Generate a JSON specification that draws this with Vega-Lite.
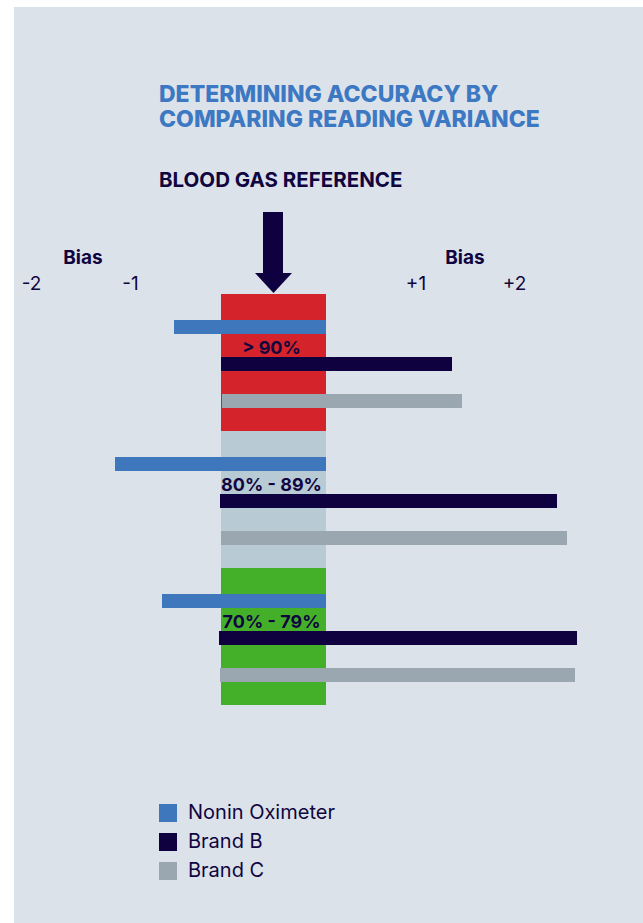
{
  "$schema": "https://vega.github.io/schema/vega-lite/v6.json",
  "width": 643,
  "height": 923,
  "autosize": {"type": "fit", "contains": "padding"},
  "padding": {"left": 14, "top": 7, "right": 0, "bottom": 0},
  "background": "#ffffff",
  "config": {"view": {"fill": "#dce2ea", "stroke": null}, "text": {"font": "Inter"}},
  "resolve": {"scale": {"y": "independent", "color": "independent"}},
  "layer": [
    {
      "data": {"values": [
        {"group": "> 90%", "lo": -0.525, "hi": 0.525},
        {"group": "80% - 89%", "lo": -0.525, "hi": 0.525},
        {"group": "70% - 79%", "lo": -0.525, "hi": 0.525}
      ]},
      "mark": {"type": "rect"},
      "encoding": {
        "x": {"field": "lo", "type": "quantitative", "scale": {"domain": [-2.595, 3.695], "nice": false, "zero": false}, "axis": null},
        "x2": {"field": "hi"},
        "y": {"field": "group", "type": "nominal", "sort": null, "axis": null,
              "scale": {"type": "band", "domain": ["> 90%", "80% - 89%", "70% - 79%"], "range": [287, 698], "paddingInner": 0, "paddingOuter": 0}},
        "color": {"field": "group", "type": "nominal", "legend": null,
                  "scale": {"domain": ["> 90%", "80% - 89%", "70% - 79%"], "range": ["#d4232a", "#b8cad4", "#44b02a"]}}
      }
    },
    {
      "data": {"values": [
        {"group": "> 90%", "brand": "Nonin Oximeter", "from": -0.995, "to": 0.525},
        {"group": "> 90%", "brand": "Brand B", "from": -0.525, "to": 1.785},
        {"group": "> 90%", "brand": "Brand C", "from": -0.515, "to": 1.885},
        {"group": "80% - 89%", "brand": "Nonin Oximeter", "from": -1.585, "to": 0.525},
        {"group": "80% - 89%", "brand": "Brand B", "from": -0.535, "to": 2.835},
        {"group": "80% - 89%", "brand": "Brand C", "from": -0.525, "to": 2.935},
        {"group": "70% - 79%", "brand": "Nonin Oximeter", "from": -1.115, "to": 0.525},
        {"group": "70% - 79%", "brand": "Brand B", "from": -0.545, "to": 3.035},
        {"group": "70% - 79%", "brand": "Brand C", "from": -0.535, "to": 3.015}
      ]},
      "mark": {"type": "bar"},
      "encoding": {
        "x": {"field": "from", "type": "quantitative", "axis": null},
        "x2": {"field": "to"},
        "y": {"field": "group", "type": "nominal", "sort": null, "axis": null,
              "scale": {"type": "band", "domain": ["> 90%", "80% - 89%", "70% - 79%"], "range": [287, 698], "paddingInner": 0, "paddingOuter": 0}},
        "yOffset": {"field": "brand", "type": "nominal", "sort": null,
              "scale": {"domain": ["Nonin Oximeter", "Brand B", "Brand C"], "paddingInner": 0.6216, "paddingOuter": 0.662, "align": 0.53}},
        "color": {"field": "brand", "type": "nominal", "sort": null,
                  "scale": {"domain": ["Nonin Oximeter", "Brand B", "Brand C"], "range": ["#3f77bd", "#0f0040", "#9aa7b0"]},
                  "legend": {"orient": "none", "legendX": 144, "legendY": 796, "title": null, "padding": 0,
                             "symbolType": "square", "symbolSize": 324, "symbolStrokeWidth": 0, "symbolOpacity": 1,
                             "labelFont": "Inter", "labelFontSize": 20, "labelColor": "#10053f", "labelOffset": 10,
                             "rowPadding": 9, "direction": "vertical"}}
      }
    },
    {
      "data": {"values": [
        {"group": "> 90%"},
        {"group": "80% - 89%"},
        {"group": "70% - 79%"}
      ]},
      "mark": {"type": "text", "align": "center", "baseline": "alphabetic", "fontSize": 18, "fontWeight": "bold", "color": "#10053f"},
      "encoding": {
        "x": {"datum": -0.02, "type": "quantitative"},
        "y": {"field": "group", "type": "nominal", "sort": null, "axis": null, "bandPosition": 0.435,
              "scale": {"type": "band", "domain": ["> 90%", "80% - 89%", "70% - 79%"], "range": [287, 698], "paddingInner": 0, "paddingOuter": 0}},
        "text": {"field": "group"}
      }
    },
    {
      "data": {"values": [{}]},
      "mark": {"type": "text", "align": "left", "baseline": "alphabetic", "fontSize": 23, "fontWeight": 800, "color": "#3d78c3",
               "text": "DETERMINING ACCURACY BY"},
      "encoding": {
        "x": {"datum": -1.145, "type": "quantitative"},
        "y": {"datum": -1.4015, "type": "quantitative", "axis": null, "scale": {"domain": [-2.0949, 4.5912], "reverse": true, "nice": false, "zero": false}}
      }
    },
    {
      "data": {"values": [{}]},
      "mark": {"type": "text", "align": "left", "baseline": "alphabetic", "fontSize": 23, "fontWeight": 800, "color": "#3d78c3",
               "text": "COMPARING READING VARIANCE"},
      "encoding": {
        "x": {"datum": -1.145, "type": "quantitative"},
        "y": {"datum": -1.219, "type": "quantitative", "axis": null, "scale": {"domain": [-2.0949, 4.5912], "reverse": true, "nice": false, "zero": false}}
      }
    },
    {
      "data": {"values": [{}]},
      "mark": {"type": "text", "align": "left", "baseline": "alphabetic", "fontSize": 20.5, "fontWeight": "bold", "color": "#10053f",
               "text": "BLOOD GAS REFERENCE"},
      "encoding": {
        "x": {"datum": -1.145, "type": "quantitative"},
        "y": {"datum": -0.781, "type": "quantitative", "axis": null, "scale": {"domain": [-2.0949, 4.5912], "reverse": true, "nice": false, "zero": false}}
      }
    },
    {
      "data": {"values": [{"side": "left", "at": -1.905}, {"side": "right", "at": 1.915}]},
      "mark": {"type": "text", "align": "center", "baseline": "alphabetic", "fontSize": 19, "fontWeight": "bold", "color": "#10053f", "text": "Bias"},
      "encoding": {
        "x": {"field": "at", "type": "quantitative"},
        "y": {"datum": -0.222, "type": "quantitative", "axis": null, "scale": {"domain": [-2.0949, 4.5912], "reverse": true, "nice": false, "zero": false}}
      }
    },
    {
      "data": {"values": [
        {"tick": "-2", "at": -2.42},
        {"tick": "-1", "at": -1.43},
        {"tick": "+1", "at": 1.425},
        {"tick": "+2", "at": 2.41}
      ]},
      "mark": {"type": "text", "align": "center", "baseline": "alphabetic", "fontSize": 19, "fontWeight": "normal", "color": "#10053f"},
      "encoding": {
        "x": {"field": "at", "type": "quantitative"},
        "y": {"datum": -0.0292, "type": "quantitative", "axis": null, "scale": {"domain": [-2.0949, 4.5912], "reverse": true, "nice": false, "zero": false}},
        "text": {"field": "tick"}
      }
    },
    {
      "data": {"values": [{}]},
      "mark": {"type": "rect", "color": "#0f0040"},
      "encoding": {
        "x": {"datum": -0.105, "type": "quantitative"},
        "x2": {"datum": 0.095},
        "y": {"datum": -0.5985, "type": "quantitative", "axis": null, "scale": {"domain": [-2.0949, 4.5912], "reverse": true, "nice": false, "zero": false}},
        "y2": {"datum": -0.146}
      }
    },
    {
      "data": {"values": [{}]},
      "mark": {"type": "point", "filled": true, "opacity": 1, "color": "#0f0040", "size": 1369, "shape": "M-1,-0.54L1,-0.54L0,0.54Z"},
      "encoding": {
        "x": {"datum": 0, "type": "quantitative"},
        "y": {"datum": -0.0803, "type": "quantitative", "axis": null, "scale": {"domain": [-2.0949, 4.5912], "reverse": true, "nice": false, "zero": false}}
      }
    }
  ]
}
